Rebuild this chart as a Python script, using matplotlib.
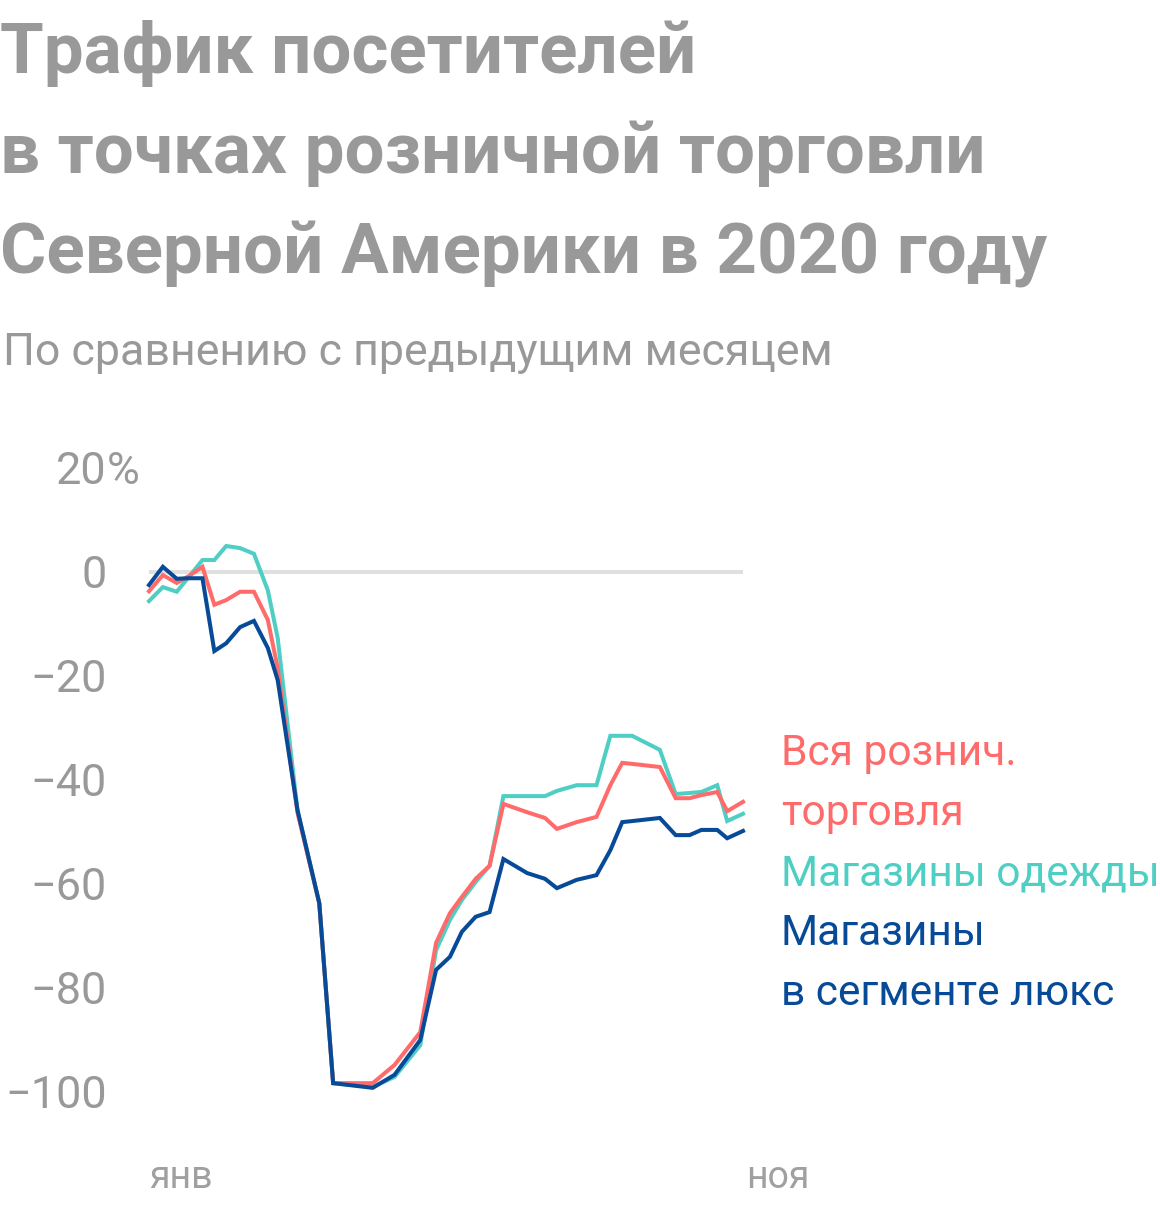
import matplotlib.pyplot as plt
import numpy as np

# данные: x - дни от начала января, y - изменение трафика, %
days = [0, 7, 14, 20, 27, 33, 39, 46, 53, 60, 65, 75, 86, 93, 113, 124, 137, 145,
        152, 158, 165, 172, 179, 191, 200, 206, 216, 226, 233, 239, 244, 258, 266,
        273, 279, 287, 292, 300]

retail = [-3.7, -0.6, -2.1, -0.8, 1.0, -6.3, -5.4, -3.8, -3.8, -9.2, -18.5, -46.3,
          -63.7, -98.3, -98.3, -94.8, -88.5, -71.3, -65.6, -62.5, -59.0, -56.5,
          -44.6, -46.2, -47.3, -49.4, -48.1, -47.1, -41.0, -36.7, -36.9, -37.5,
          -43.5, -43.5, -42.9, -42.3, -46.0, -44.2]

apparel = [-5.6, -2.9, -3.8, -1.0, 2.3, 2.3, 5.0, 4.6, 3.5, -3.5, -12.7, -45.8,
           -63.7, -98.3, -99.0, -97.1, -91.0, -72.7, -66.9, -63.1, -59.6, -56.5,
           -43.1, -43.1, -43.1, -42.1, -41.0, -41.0, -31.5, -31.5, -31.5, -34.2,
           -42.7, -42.5, -42.3, -41.0, -47.9, -46.5]

luxury = [-2.5, 1.0, -1.3, -1.2, -1.2, -15.2, -13.7, -10.6, -9.4, -14.6, -20.8,
          -45.8, -63.7, -98.3, -99.2, -96.7, -90.0, -76.5, -74.0, -69.2, -66.3,
          -65.4, -55.2, -57.9, -59.0, -60.8, -59.2, -58.3, -53.5, -48.1, -47.9,
          -47.3, -50.6, -50.6, -49.6, -49.6, -51.2, -49.8]

yticks = [20, 0, -20, -40, -60, -80, -100]
ytick_labels = ['20', '0', '−20', '−40', '−60', '−80', '−100']
xtick_labels = ['янв', 'ноя']

RED = '#ff6b6b'
TEAL = '#4fcfc4'
NAVY = '#074a98'
GREY = '#999999'

plt.rcParams['font.family'] = ['Roboto', 'DejaVu Sans']

W, H = 1160, 1208
fig = plt.figure(figsize=(W / 100, H / 100), dpi=100)

def fx(px):
    return px / W

def fy(py):
    return 1 - py / H

# оси: 0..300 дней -> 149..743 px, -100..20 -> 1092..468 px
ax = fig.add_axes([fx(149), fy(1092), (743 - 149) / W, (1092 - 468) / H])
ax.set_xlim(0, 300)
ax.set_ylim(-100, 20)
ax.axis('off')

ax.axhline(0, color='#e0e0e0', lw=2.9, zorder=0)
ax.plot(days, apparel, color=TEAL, lw=2.9, clip_on=False, solid_joinstyle='miter')
ax.plot(days, retail, color=RED, lw=2.9, clip_on=False, solid_joinstyle='miter')
ax.plot(days, luxury, color=NAVY, lw=2.9, clip_on=False, solid_joinstyle='miter')

# подписи оси y
for v, lab in zip(yticks, ytick_labels):
    ypx = 572 - v * 5.2 + 16
    fig.text(fx(107), fy(ypx), lab, ha='right', va='baseline', fontsize=32.4, color=GREY)
fig.text(fx(107), fy(572 - 20 * 5.2 + 16), '%', ha='left', va='baseline', fontsize=32.4, color=GREY)

# подписи оси x
fig.text(fx(149), fy(1188), xtick_labels[0], ha='left', va='baseline', fontsize=27, color='#a0a0a0')
fig.text(fx(746), fy(1188), xtick_labels[1], ha='left', va='baseline', fontsize=27, color='#a0a0a0')

# заголовок
title = ['Трафик посетителей', 'в точках розничной торговли', 'Северной Америки в 2020 году']
for i, line in enumerate(title):
    fig.text(fx(0), fy(73 + 100 * i), line, ha='left', va='baseline',
             fontsize=51, fontweight='bold', color=GREY)
fig.text(fx(3), fy(365), 'По сравнению с предыдущим месяцем', ha='left', va='baseline',
         fontsize=32.2, color=GREY)

# подписи серий
legend = [('Вся рознич.', RED), ('торговля', RED), ('Магазины одежды', TEAL),
          ('Магазины', NAVY), ('в сегменте люкс', NAVY)]
for i, (txt, c) in enumerate(legend):
    fig.text(fx(781), fy(765 + 60 * i), txt, ha='left', va='baseline', fontsize=30.6, color=c)

fig.savefig('out.png', dpi=100)
